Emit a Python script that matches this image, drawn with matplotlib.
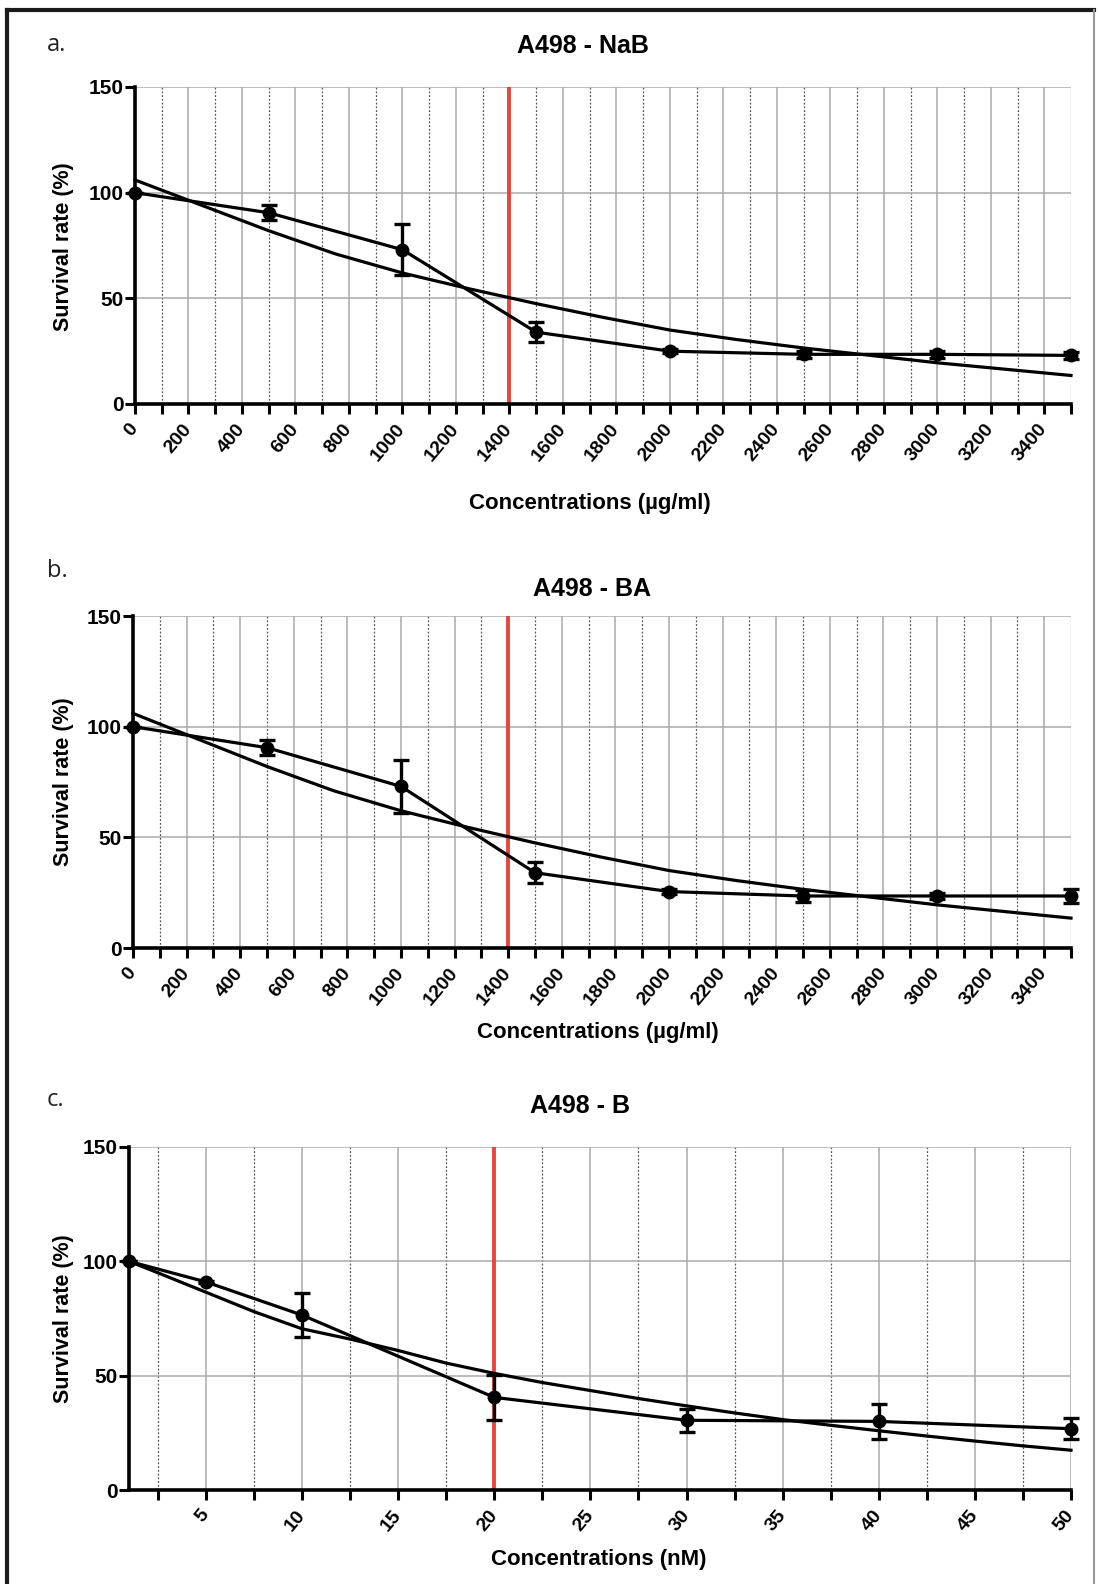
import matplotlib
matplotlib.use("Agg")
import matplotlib.pyplot as plt
from matplotlib.ticker import MultipleLocator
from matplotlib.lines import Line2D

# ---------------- data ----------------
# Panel a: A498 - NaB
a_conc = [0, 500, 1000, 1500, 2000, 2500, 3000, 3500]
a_surv = [100, 90.5, 73, 34, 25, 23.5, 23.5, 23]
a_err = [0, 3.5, 12, 4.7, 1, 1.5, 1.5, 1.5]
a_fit_x = [0, 250, 500, 750, 1000, 1250, 1500, 1750, 2000, 2250, 2500, 2750, 3000, 3250, 3500]
a_fit_y = [106, 94, 82, 71, 62, 54.5, 47.5, 41, 35, 30.5, 26.5, 23, 19.5, 16.5, 13.5]
a_ic50 = 1400

# Panel b: A498 - BA
b_conc = [0, 500, 1000, 1500, 2000, 2500, 3000, 3500]
b_surv = [100, 90.5, 73, 34, 25.5, 23.5, 23.5, 23.5]
b_err = [0, 3.5, 12, 4.7, 1, 2.5, 1.5, 3]
b_fit_x = [0, 250, 500, 750, 1000, 1250, 1500, 1750, 2000, 2250, 2500, 2750, 3000, 3250, 3500]
b_fit_y = [106, 94, 82, 71, 62, 54.5, 47.5, 41, 35, 30.5, 26.5, 23, 19.5, 16.5, 13.5]
b_ic50 = 1400

# Panel c: A498 - B
c_conc = [1, 5, 10, 20, 30, 40, 50]
c_surv = [100, 91, 76.5, 40.5, 30.5, 30, 26.8]
c_err = [0, 0.5, 9.5, 10, 5, 7.5, 4.7]
c_fit_x = [1, 2.5, 5, 7.5, 10, 12.5, 15, 17.5, 20, 22.5, 25, 27.5, 30, 32.5, 35,
           37.5, 40, 42.5, 45, 47.5, 50]
c_fit_y = [100, 95, 86.5, 78, 70.5, 66, 61, 55.5, 51, 47, 43.5, 40, 36.8, 33.7, 30.8,
           28.3, 25.9, 23.6, 21.4, 19.3, 17.4]
c_ic50 = 20

titles = ["A498 - NaB", "A498 - BA", "A498 - B"]
letters = ["a.", "b.", "c."]
xlabels = ["Concentrations (\u00b5g/ml)", "Concentrations (\u00b5g/ml)", "Concentrations (nM)"]
ylabel = "Survival rate (%)"

# ---------------- figure ----------------
W, H = 1100, 1584
plt.rcParams['font.family'] = ['Liberation Sans', 'DejaVu Sans']
fig = plt.figure(figsize=(W / 100, H / 100), dpi=100)
fig.patch.set_facecolor("white")


def fx(px):
    return px / W


def fy(py):
    return 1 - py / H


def make_axes(left, right, top, bottom):
    return fig.add_axes([fx(left), fy(bottom), (right - left) / W, (bottom - top) / H])


def draw_panel(ax, x, y, err, fit_x, fit_y, ic50, xlim, major, minor):
    ax.set_xlim(*xlim)
    ax.set_ylim(0, 150)
    ax.xaxis.set_major_locator(MultipleLocator(major))
    ax.xaxis.set_minor_locator(MultipleLocator(minor))
    ax.yaxis.set_major_locator(MultipleLocator(50))
    ax.set_axisbelow(True)
    ax.grid(which='major', axis='both', color='#aaaaaa', lw=1.1)
    ax.grid(which='minor', axis='x', color='#555555', lw=0.9, ls=(0, (1.5, 1.5)))
    for s in ['top', 'right']:
        ax.spines[s].set_visible(False)
    for s in ['left', 'bottom']:
        ax.spines[s].set_linewidth(2.6)
        ax.spines[s].set_color('black')
        ax.spines[s].set_zorder(6)
    ax.tick_params(axis='both', which='both', direction='out', length=7, width=2.2,
                   color='black')
    ax.tick_params(axis='y', labelsize=15, pad=1)
    ax.tick_params(axis='x', labelsize=14, pad=9)
    ax.axvline(ic50, color='#e8453c', lw=2.8, zorder=2)
    ax.plot(fit_x, fit_y, color='black', lw=2.3, zorder=3, clip_on=False)
    cont = ax.errorbar(x, y, yerr=err, fmt='o-', color='black', ms=9, lw=2.3,
                       elinewidth=2.4, capsize=5.5, capthick=2.4, zorder=4)
    cont.lines[0].set_clip_on(False)
    for art in cont.lines[1]:
        art.set_clip_on(False)
    for art in cont.lines[2]:
        art.set_clip_on(False)
    for lbl in ax.get_yticklabels():
        lbl.set_fontweight('bold')
    for lbl in ax.get_xticklabels():
        lbl.set_fontweight('bold')
        lbl.set_rotation(50)
        lbl.set_ha('right')
        lbl.set_va('center')
        lbl.set_rotation_mode('anchor')


ax_a = make_axes(135, 1071, 87, 404)
draw_panel(ax_a, a_conc, a_surv, a_err, a_fit_x, a_fit_y, a_ic50, (0, 3500), 200, 100)
ax_b = make_axes(133, 1071, 616, 948)
draw_panel(ax_b, b_conc, b_surv, b_err, b_fit_x, b_fit_y, b_ic50, (0, 3500), 200, 100)
ax_c = make_axes(129, 1071, 1147, 1490)
draw_panel(ax_c, c_conc, c_surv, c_err, c_fit_x, c_fit_y, c_ic50, (1, 50), 5, 2.5)

# texts: (letter x, letter baseline y), (title center x, baseline y),
# (ylabel x, y center), (xlabel center x, baseline y)
layout = [
    ((47, 51), (583, 53), (63, 247), (590, 509)),
    ((47, 577), (592, 596), (63, 782), (598, 1038)),
    ((47, 1106), (580, 1113), (63, 1319), (599, 1565)),
]
for i, (lt, tt, yl, xl) in enumerate(layout):
    fig.text(fx(lt[0]), fy(lt[1]), letters[i], fontsize=17, family=['Open Sans', 'DejaVu Sans'],
             color='#222222', ha='left', va='baseline')
    fig.text(fx(tt[0]), fy(tt[1]), titles[i], fontsize=18, fontweight='bold',
             ha='center', va='baseline')
    fig.text(fx(yl[0]), fy(yl[1]), ylabel, fontsize=15.5, fontweight='bold',
             rotation=90, ha='center', va='center')
    fig.text(fx(xl[0]), fy(xl[1]), xlabels[i], fontsize=16, fontweight='bold',
             ha='center', va='baseline')

# outer frame
frame_kw = dict(color='#1a1a1a', lw=3, transform=fig.transFigure, zorder=10)
fig.add_artist(Line2D([fx(7), fx(7)], [0, fy(10)], **frame_kw))
fig.add_artist(Line2D([fx(7), fx(1094)], [fy(10), fy(10)], **frame_kw))
fig.add_artist(Line2D([fx(1094), fx(1094)], [0, fy(10)], color='#9a9a9a', lw=1.5,
                      transform=fig.transFigure, zorder=10))

fig.savefig("out.png", dpi=100, facecolor='white')
